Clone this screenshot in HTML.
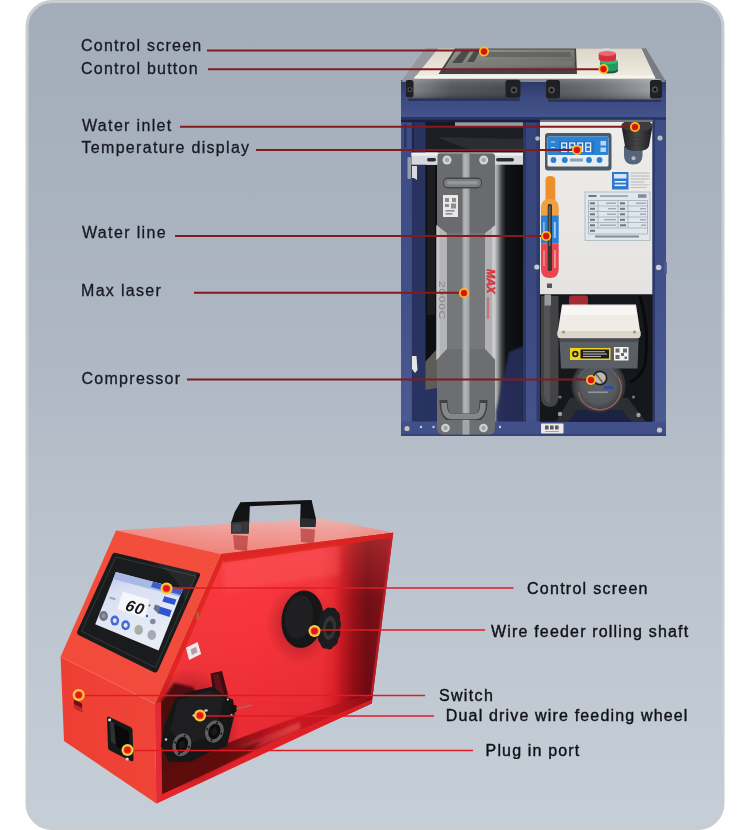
<!DOCTYPE html>
<html>
<head>
<meta charset="utf-8">
<title>Machine structure</title>
<style>
html,body{margin:0;padding:0;background:#fff;}
body{width:750px;height:830px;overflow:hidden;position:relative;font-family:"Liberation Sans",sans-serif;}
svg{position:absolute;left:0;top:0;display:block;will-change:transform;}
text{font-family:"Liberation Sans",sans-serif;font-size:16px;fill:#171923;stroke:#171923;stroke-width:0.3px;}
text.bl{fill:#111218;stroke:#111218;stroke-width:0.4px;}
</style>
</head>
<body>
<svg width="750" height="830" viewBox="0 0 750 830">
<defs>
<linearGradient id="bg" x1="0" y1="0" x2="0" y2="1">
<stop offset="0" stop-color="#a2adb9"/>
<stop offset="0.45" stop-color="#afb8c4"/>
<stop offset="0.64" stop-color="#bac3cd"/>
<stop offset="1" stop-color="#c6ced7"/>
</linearGradient>
<g id="dot"><circle r="5" fill="#f8c818"/><circle r="3.7" fill="#f08a18"/><circle r="3.1" fill="#dc101c"/></g><g id="dot2"><circle r="6" fill="#f6d044"/><circle r="4.3" fill="#f0901c"/><circle r="3.3" fill="#e6141e"/></g>
</defs>
<!-- PANEL -->
<rect x="27" y="1.5" width="696" height="827" rx="25" ry="25" fill="url(#bg)" stroke="#c9ccd0" stroke-width="3"/>
<!-- MACHINE-TOP -->
<g id="chiller">
<defs>
<filter id="b1" x="-10%" y="-10%" width="120%" height="120%"><feGaussianBlur stdDeviation="0.6"/></filter>
<filter id="b2" x="-20%" y="-20%" width="140%" height="140%"><feGaussianBlur stdDeviation="1.2"/></filter>
<filter id="b3" x="-30%" y="-30%" width="160%" height="160%"><feGaussianBlur stdDeviation="2.5"/></filter>
<linearGradient id="cream" x1="0" y1="0" x2="0" y2="1"><stop offset="0" stop-color="#dcd6c8"/><stop offset="1" stop-color="#f1ede2"/></linearGradient>
<linearGradient id="blueTop" x1="0" y1="0" x2="0" y2="1"><stop offset="0" stop-color="#2c3763"/><stop offset="0.45" stop-color="#3b4a80"/><stop offset="1" stop-color="#44558d"/></linearGradient>
<linearGradient id="bumpL" x1="0" y1="0" x2="1" y2="0"><stop offset="0" stop-color="#85888c"/><stop offset="0.12" stop-color="#7b7e82"/><stop offset="0.4" stop-color="#54575c"/><stop offset="1" stop-color="#46494e"/></linearGradient><linearGradient id="bumpR" x1="0" y1="0" x2="1" y2="0"><stop offset="0" stop-color="#54575c"/><stop offset="0.45" stop-color="#6c6f74"/><stop offset="0.9" stop-color="#9b9ea2"/><stop offset="1" stop-color="#9b9ea2"/></linearGradient><linearGradient id="bumpV" x1="0" y1="0" x2="0" y2="1"><stop offset="0" stop-color="#ffffff" stop-opacity="0.180"/><stop offset="0.5" stop-color="#808080" stop-opacity="0"/><stop offset="1" stop-color="#000000" stop-opacity="0.300"/></linearGradient><linearGradient id="bump" x1="0" y1="0" x2="0" y2="1"><stop offset="0" stop-color="#5a5d62"/><stop offset="0.35" stop-color="#45484d"/><stop offset="1" stop-color="#2b2d31"/></linearGradient>
<linearGradient id="laserSide" x1="0" y1="0" x2="1" y2="0"><stop offset="0" stop-color="#c9c9ca"/><stop offset="0.1" stop-color="#a4a5a6"/><stop offset="0.26" stop-color="#3f4043"/><stop offset="0.4" stop-color="#111215"/><stop offset="1" stop-color="#0b0c0f"/></linearGradient>
<linearGradient id="scr" x1="0" y1="0" x2="1" y2="1"><stop offset="0" stop-color="#95968e"/><stop offset="0.5" stop-color="#7c7d77"/><stop offset="1" stop-color="#626462"/></linearGradient>
<linearGradient id="postL" x1="0" y1="0" x2="1" y2="0"><stop offset="0" stop-color="#40508a"/><stop offset="0.42" stop-color="#3a497f"/><stop offset="0.45" stop-color="#293462"/><stop offset="1" stop-color="#27325e"/></linearGradient>
<linearGradient id="postV" gradientUnits="userSpaceOnUse" x1="0" y1="118" x2="0" y2="436"><stop offset="0" stop-color="#3d4c85"/><stop offset="0.5" stop-color="#414f88"/><stop offset="1" stop-color="#4d5b93"/></linearGradient><linearGradient id="postV2" gradientUnits="userSpaceOnUse" x1="0" y1="118" x2="0" y2="436"><stop offset="0" stop-color="#36457a"/><stop offset="0.6" stop-color="#3a497f"/><stop offset="1" stop-color="#46548c"/></linearGradient><linearGradient id="whitep" x1="0" y1="0" x2="0" y2="1"><stop offset="0" stop-color="#eeedea"/><stop offset="1" stop-color="#e4e3e1"/></linearGradient>
<linearGradient id="capg" x1="0" y1="0" x2="1" y2="0"><stop offset="0" stop-color="#1d1d1f"/><stop offset="0.5" stop-color="#48484a"/><stop offset="1" stop-color="#1a1a1c"/></linearGradient>
<radialGradient id="pump" cx="0.5" cy="0.5" r="0.5"><stop offset="0" stop-color="#5f6266"/><stop offset="0.7" stop-color="#55585c"/><stop offset="1" stop-color="#3b3d41"/></radialGradient>
</defs>
<!-- interior dark -->
<rect x="402" y="118" width="263" height="316" fill="#16181e"/>
<!-- interior floor left -->
<path d="M425 388 L523 388 L523 423 L412 423Z" fill="#2b3665"/>
<rect x="425" y="125" width="98" height="28" fill="#1c1e24"/>
<path d="M437 137 L523 139 L523 150 L470 150Z" fill="#2c2e33" filter="url(#b1)"/>
<rect x="455" y="122" width="68" height="4" fill="#9a9da0" filter="url(#b1)"/>
<!-- back interior of left bay -->
<rect x="425" y="165" width="12" height="240" fill="#0e0f13"/>
<path d="M427 165 h8 v150 h-8z" fill="#1d1d20"/>
<!-- left bay gray panel behind bottom -->
<path d="M425 362 L437 349 L437 392 L425 397Z" fill="#5c5c58" filter="url(#b1)"/><path d="M412 392 L437 388 L437 423 L412 423Z" fill="#28325f"/>
<!-- laser side (gradient to dark) -->
<rect x="494" y="158" width="30" height="264" fill="url(#laserSide)"/>
<path d="M509 352 L524 346 L524 423 L496 423 L496 412Z" fill="#252f5a" opacity="0.950" filter="url(#b2)"/>
<!-- silver bracket -->
<rect x="411" y="152.7" width="112" height="12" fill="#d6d9dc"/>
<rect x="411" y="152.7" width="112" height="3" fill="#eceeef"/>
<rect x="427" y="158" width="9" height="3.4" rx="1.7" fill="#2b2d30"/>
<rect x="496" y="158" width="18" height="3.4" rx="1.7" fill="#2b2d30"/>
<!-- laser unit front -->
<path d="M440 153.5 H492 Q495 153.5 495 157 V428 Q495 434 489 434 H443 Q437 434 437 428 V157 Q437 153.5 440 153.5Z" fill="#75777a"/>
<!-- light side stripes -->
<path d="M436.500 225 L447 233 L447 349 L436.500 360Z" fill="#b4b5b6"/>
<path d="M436.500 225 L439.500 227.500 L439.500 357 L436.500 360Z" fill="#c6c7c8"/>
<path d="M495.500 225 L485 233 L485 349 L495.500 360Z" fill="#b0b1b2"/>
<path d="M495.500 225 L492 227.500 L492 356 L495.500 360Z" fill="#c9c9ca"/>
<!-- darker top/bottom -->
<path d="M437 157 Q437 153.5 440 153.5 H492 Q495 153.5 495 157 V225 L485 233 H447 L437 225Z" fill="#696b6e"/>
<path d="M437 360 L447 349 H485 L495 360 V428 Q495 434 489 434 H443 Q437 434 437 428Z" fill="#6c6e71"/>
<!-- center stripe -->
<rect x="462.5" y="153.5" width="7" height="280.5" fill="#a3a5a7"/>
<rect x="464" y="153.5" width="3" height="280.5" fill="#b1b2b3"/>
<!-- QR sticker -->
<rect x="443" y="195" width="15" height="22" fill="#e9e9e7"/>
<g fill="#8c8c8c"><rect x="445" y="198" width="4" height="4"/><rect x="452" y="198" width="4" height="4"/><rect x="445" y="204" width="4" height="3"/><rect x="451" y="203.5" width="5" height="5"/><rect x="445.500" y="210" width="9" height="1.600"/><rect x="445.500" y="213" width="7" height="1.600"/></g>
<!-- handles -->
<rect x="443" y="177.500" width="39" height="11" rx="5" fill="#44464a"/>
<rect x="444" y="179" width="37" height="8" rx="4" fill="#7b7d81"/>
<rect x="447" y="181" width="31" height="3.500" rx="1.700" fill="#94969a"/>
<path d="M443.500 400 Q443.500 417.500 452 417.500 H475 Q483.500 417.500 483.500 400" fill="none" stroke="#3f4144" stroke-width="8" filter="url(#b1)"/>
<path d="M444 403 Q444 416.500 452 416.500 H475 Q483 416.500 483 403" fill="none" stroke="#85878a" stroke-width="5.500"/>
<!-- screws on laser -->
<g><circle cx="447" cy="160" r="4.500" fill="#d4d5d6"/><circle cx="447" cy="160" r="2.300" fill="#a5a7a9"/><circle cx="483.700" cy="160" r="4.500" fill="#d4d5d6"/><circle cx="483.700" cy="160" r="2.300" fill="#a5a7a9"/>
<circle cx="445.500" cy="428" r="4.300" fill="#d0d1d2"/><circle cx="445.500" cy="428" r="2.200" fill="#a0a2a4"/><circle cx="483.500" cy="428" r="4.300" fill="#d0d1d2"/><circle cx="483.500" cy="428" r="2.200" fill="#a0a2a4"/></g>
<!-- MAX text & 2000C text -->
<text transform="translate(486.500,269) rotate(90)" style="stroke:#d8343c;stroke-width:0.500px;font-size:11px;font-weight:bold;font-style:italic;fill:#d8343c;letter-spacing:0">MAX</text>
<rect x="486.800" y="297" width="2.400" height="22" fill="#c9646a" opacity="0.800"/>
<text transform="translate(438.500,281) rotate(90)" style="stroke:none;font-size:9px;fill:#858688;letter-spacing:0.500px" textLength="39" lengthAdjust="spacingAndGlyphs">2000C</text>
<!-- left post -->
<rect x="401" y="118" width="24.500" height="318" fill="#28335f"/><rect x="401" y="118" width="10.800" height="318" fill="url(#postV)"/>
<rect x="412" y="124" width="2" height="30" fill="#1c2448"/>
<rect x="404" y="124" width="2.500" height="24" rx="1" fill="#2a3563"/>
<rect x="411.500" y="152.700" width="26" height="12" fill="#d6d9dc"/><rect x="411.500" y="152.700" width="26" height="3" fill="#eceeef"/><rect x="427" y="158" width="9" height="3.400" rx="1.700" fill="#2b2d30"/>
<!-- left silver hinge bits -->
<rect x="407.500" y="157" width="3.500" height="22" rx="1.500" fill="#9a9ea6"/>
<path d="M412 166 h5 v14 l-3 -2 h-2z" fill="#d9dbdd"/>
<path d="M412 356 h4.500 l1 14 l-2.500 3 l-3 -4z" fill="#e6e6e4"/>
<!-- center post -->
<rect x="523" y="118" width="17" height="318" fill="url(#postV2)"/>
<rect x="523" y="118" width="3" height="318" fill="#2b3766"/>
<rect x="536.500" y="118" width="3.500" height="318" fill="#2e3a6a"/>
<circle cx="536.800" cy="267" r="2.600" fill="#c9cbcf"/>
<circle cx="537.500" cy="138.500" r="2.300" fill="#aeb2bb"/>
<!-- right bay -->
<!-- white panel -->
<rect x="540" y="121" width="113" height="173.500" fill="url(#whitep)"/>
<!-- right post -->
<rect x="652.500" y="118" width="13.500" height="318" fill="url(#postV)"/>
<rect x="652.500" y="118" width="2.500" height="318" fill="#2d3968"/>
<rect x="664" y="262" width="2.800" height="12" fill="#4a5a90"/>
<circle cx="660" cy="138" r="2.600" fill="#b9bcc4"/>
<circle cx="658.600" cy="267.500" r="2.800" fill="#c9cbcf"/>
<!-- bottom frame -->
<rect x="401" y="421.500" width="265" height="14.500" fill="#42508a"/>
<rect x="401" y="434" width="265" height="2" fill="#36437a"/>
<!-- redraw laser bottom over frame -->
<path d="M437 421 V428 Q437 434.500 443 434.500 H489 Q495 434.500 495 428 V421Z" fill="#6c6e71"/>
<rect x="462.500" y="421" width="7" height="13.500" fill="#a3a5a7"/>
<circle cx="445.500" cy="428" r="4.300" fill="#d0d1d2"/><circle cx="445.500" cy="428" r="2.200" fill="#a0a2a4"/><circle cx="483.500" cy="428" r="4.300" fill="#d0d1d2"/><circle cx="483.500" cy="428" r="2.200" fill="#a0a2a4"/>
<circle cx="407" cy="428.500" r="2.600" fill="#c7c4b8"/><circle cx="659.500" cy="430" r="2.600" fill="#c4c6c8"/>
<g fill="#c8ccd8"><circle cx="421" cy="427" r="1.200"/><circle cx="433.500" cy="427" r="1.200"/><circle cx="500" cy="427" r="1.200"/></g>
<rect x="541" y="423.500" width="22.500" height="10" rx="1" fill="#eceae6"/>
<g fill="#5a5c62"><rect x="545" y="425.500" width="3.600" height="4"/><rect x="550" y="425.500" width="3.600" height="4"/><rect x="555" y="425.500" width="3.600" height="4"/><rect x="545" y="431" width="14" height="0.800" opacity="0.600"/></g>
<!-- ===== right bay contents ===== -->
<!-- temperature display -->
<rect x="545" y="133" width="66.500" height="37.500" rx="3" fill="#4d5a66"/>
<rect x="547.500" y="136.500" width="61" height="30" rx="1.500" fill="#e8edf2"/>
<rect x="547.500" y="136.500" width="61" height="18.500" rx="1.500" fill="#2c83d6"/>
<rect x="559" y="141" width="35" height="12" fill="#2a6fc0"/>
<g fill="none" stroke="#e6eef8" stroke-width="1.300"><rect x="561.800" y="143" width="4.800" height="8.500"/><rect x="569.800" y="143" width="4.800" height="8.500"/><rect x="577.800" y="143" width="4.800" height="8.500"/><rect x="585.800" y="143" width="4.800" height="8.500"/><path d="M561.800 147.200h4.800M569.800 147.200h4.800M577.800 147.200h4.800M585.800 147.200h4.800"/></g>
<g fill="#bcd6f2"><rect x="551" y="141.500" width="4" height="1"/><rect x="551" y="147" width="4" height="1"/><rect x="600.500" y="141" width="5.500" height="4.500"/><rect x="600.500" y="147.500" width="5.500" height="4.500"/></g>
<g fill="#2d7fd2"><circle cx="553.500" cy="160" r="2.900"/><circle cx="564.800" cy="160" r="2.900"/><circle cx="589" cy="160" r="2.900"/><circle cx="599.500" cy="160" r="2.900"/></g>
<rect x="570" y="158.500" width="13" height="3" fill="#6a7f99" opacity="0.700"/>
<!-- water inlet cap -->
<path d="M624 146 V155.500 Q624 164.500 633.200 164.500 Q642.500 164.500 642.500 155.500 V146Z" fill="#55657c"/>
<circle cx="633.500" cy="158.300" r="2" fill="#b4bcc8"/>
<path d="M621.500 126 Q621.500 120.300 637 120.300 Q652.500 120.300 652.500 126 L649 146 Q648 151 636.500 151 Q625.500 151 625 146Z" fill="url(#capg)"/>
<ellipse cx="637" cy="126" rx="15.300" ry="5.600" fill="#3d3d3f"/>
<g stroke="#3a3633" stroke-width="0.700" fill="none" opacity="0.800"><path d="M623.500 135 Q637 140 650.800 135"/><path d="M624 139 Q637 144 650.200 139"/><path d="M624.600 143 Q637 148 649.600 143"/></g>
<!-- blue label -->
<rect x="612" y="172" width="16.500" height="17.500" fill="#2d79cf"/>
<g fill="#e8f1fb"><rect x="614" y="174" width="12.500" height="4.500" opacity="0.900"/><rect x="614.500" y="181" width="11.500" height="1.600"/><rect x="614.500" y="184.500" width="11.500" height="1.600"/></g>
<g fill="#9aa0a8" opacity="0.700"><rect x="630.500" y="172.500" width="19" height="1"/><rect x="630.500" y="175.500" width="19" height="1"/><rect x="630.500" y="178.500" width="19" height="1"/><rect x="630.500" y="181.500" width="14" height="1"/><rect x="630.500" y="184.500" width="19" height="0.800"/><rect x="630.500" y="187" width="16" height="0.800"/></g>
<!-- spec label -->
<rect x="585" y="192" width="65" height="48.500" fill="#dfe7ec" stroke="#a9b4bd" stroke-width="0.800"/>
<g stroke="#8f9aa5" stroke-width="0.600" fill="none"><path d="M588.500 200.500 H647.500 V234 H588.500Z"/><path d="M588.500 206H647.500M588.500 211.500H647.500M588.500 217H647.500M588.500 222.500H647.500M588.500 228H647.500M618 200.500V228M598 200.500V228M628 200.500V228"/></g>
<g fill="#6c7680"><rect x="588.500" y="195" width="8" height="2"/><rect x="600" y="195.300" width="28" height="1.500" opacity="0.700"/><rect x="638" y="194.300" width="8.500" height="3.500" opacity="0.800"/><rect x="595" y="235.500" width="44" height="2" opacity="0.800"/>
<rect x="590" y="202.300" width="5" height="2"/><rect x="590" y="207.800" width="5" height="2"/><rect x="590" y="213.300" width="5" height="2"/><rect x="590" y="218.800" width="5" height="2"/><rect x="590" y="224.300" width="5" height="2"/><rect x="590" y="229.800" width="5" height="2"/>
<rect x="620" y="202.300" width="5" height="2"/><rect x="620" y="207.800" width="5" height="2"/><rect x="620" y="213.300" width="5" height="2"/><rect x="620" y="218.800" width="5" height="2"/><rect x="620" y="224.300" width="6" height="2"/>
<g opacity="0.550"><rect x="606" y="202.500" width="10" height="1.400"/><rect x="608" y="208" width="8" height="1.400"/><rect x="607" y="213.500" width="9" height="1.400"/><rect x="604" y="219" width="12" height="1.400"/><rect x="600" y="224.500" width="16" height="1.400"/><rect x="636" y="202.500" width="10" height="1.400"/><rect x="640" y="208" width="6" height="1.400"/><rect x="640" y="213.500" width="6" height="1.400"/><rect x="640" y="219" width="6" height="1.400"/><rect x="641" y="224.500" width="5" height="1.400"/></g></g>
<!-- level gauge -->
<path d="M545.500 200 V180 Q545.500 176 550.400 176 Q555.300 176 555.300 180 V200Z" fill="#ef8f2c"/>
<path d="M541 216 V208 Q541 198.700 549.800 198.700 Q558.700 198.700 558.700 208 V216Z" fill="#f0a040"/>
<rect x="541" y="215.600" width="17.700" height="28" fill="#2a7fd6"/>
<path d="M541 243.400 H558.700 V269 Q558.700 278 549.800 278 Q541 278 541 269Z" fill="#e8454f"/>
<rect x="547.700" y="204" width="4.300" height="67" rx="1.500" fill="#3b3432"/>
<rect x="548.800" y="206" width="1.600" height="40" fill="#8a8686" opacity="0.600"/>
<rect x="553.800" y="222" width="2" height="16" fill="#d9e7f7" opacity="0.700"/>
<rect x="543" y="222" width="1.800" height="14" fill="#d9e7f7" opacity="0.500"/>
<rect x="554" y="250" width="1.800" height="18" fill="#f6c9c9" opacity="0.600"/>
<rect x="543.200" y="250" width="1.600" height="16" fill="#f6c9c9" opacity="0.500"/>
<rect x="547" y="283.500" width="5" height="4.500" fill="#55575a"/>
<!-- area below white panel -->
<rect x="540" y="294.500" width="112.500" height="127" fill="#15171c"/>
<rect x="569" y="295.500" width="19" height="10" rx="3" fill="#a42a33"/>

<!-- black hose -->
<path d="M541 296 H558.500 V396 Q558.500 407 550 407 Q541 407 541 396Z" fill="#434446"/>
<path d="M544 298 H550 V403 Q544 402 544 394Z" fill="#525355" filter="url(#b1)"/>
<rect x="544.500" y="294.500" width="6.500" height="11" fill="#97999b"/>
<!-- wires right -->
<path d="M640 296 Q650 330 645 365 Q640 378 630 382" fill="none" stroke="#0a0a0c" stroke-width="3"/>
<!-- pump base -->
<path d="M570 398 H628 L646 422 H556Z" fill="#2c2e31"/>
<path d="M577 410 H622 L632 422 H568Z" fill="#1b2244"/>
<circle cx="560" cy="414" r="2.200" fill="#9b9d9f"/><circle cx="638.500" cy="415" r="2.200" fill="#9b9d9f"/><circle cx="560" cy="397" r="1.600" fill="#77797b"/><circle cx="633.500" cy="397" r="1.600" fill="#77797b"/>
<!-- pump body -->
<circle cx="598.500" cy="385.500" r="27" fill="#303236"/>
<circle cx="598.500" cy="385.500" r="25" fill="url(#pump)"/>
<path d="M578.500 392 A21.500 21.500 0 1 0 618 377" fill="none" stroke="#a8665c" stroke-width="1.300" opacity="0.850"/>
<path d="M579 377 A21 21 0 0 1 617 377" fill="none" stroke="#8b8f96" stroke-width="0.800" opacity="0.700"/>
<circle cx="600" cy="378" r="7.500" fill="#1f2023"/>
<circle cx="600" cy="378" r="5.800" fill="#bdb9ae"/>
<path d="M596 374 L603 383" stroke="#6a675f" stroke-width="1.600"/>
<rect x="604" y="386" width="9" height="3" fill="#2b4fa0"/>
<rect x="588" y="391.500" width="20" height="1.400" fill="#a9adb3" opacity="0.800"/>
<!-- compressor white lid -->
<path d="M562 304.500 H636 L640.500 334 Q640.500 338.500 636 338.500 H562 Q557.500 338.500 557.500 334Z" fill="#efece6"/>
<path d="M557.500 331 H640.500 V335 Q640.500 338.500 636 338.500 H562 Q557.500 338.500 557.500 335Z" fill="#dcd6cb"/>
<path d="M563 306 H635 L636.500 315 H561.500Z" fill="#f7f6f3"/>
<circle cx="563.500" cy="332" r="1.500" fill="#9a958a"/><circle cx="634.500" cy="332" r="1.500" fill="#9a958a"/>
<!-- compressor gray box -->
<path d="M559.500 338.500 H638.500 L637.500 368.500 H561Z" fill="#5a5f66"/>
<rect x="559.500" y="338.500" width="79" height="3.500" fill="#494d53"/>
<rect x="570" y="348" width="40.500" height="12" fill="#f0d21c"/>
<rect x="580.500" y="349.500" width="28.500" height="9" fill="#1d1d1f"/>
<circle cx="575.300" cy="354" r="3.200" fill="#1d1d1f"/><circle cx="575.300" cy="354" r="1.500" fill="#f0d21c"/>
<g fill="#d8d8d8"><rect x="583" y="351.300" width="22" height="0.900"/><rect x="583" y="353.600" width="24" height="0.900"/><rect x="583" y="355.900" width="18" height="0.900"/></g>
<rect x="614" y="347" width="14.500" height="13.500" fill="#f2f2f2"/>
<g fill="#6b6b6b"><rect x="615.500" y="348.500" width="4" height="4"/><rect x="623" y="348.500" width="4" height="4"/><rect x="615.500" y="355" width="4" height="4"/><rect x="621" y="353" width="3" height="3"/><rect x="624.500" y="356.500" width="2.500" height="2.500"/></g>
<!-- ===== top section ===== -->
<!-- blue top frame -->
<path d="M401 80 H666 V119.500 H401Z" fill="url(#blueTop)"/>
<rect x="401" y="117" width="265" height="3" fill="#2b3663"/>
<rect x="401" y="119.800" width="139" height="2.500" fill="#1a2040"/><rect x="540" y="119.800" width="113" height="2.200" fill="#6d7382"/>
<!-- gray bevel of top plate -->
<path d="M425.500 48.500 L646 48.500 L666 82 L401 82Z" fill="#868a90"/>
<path d="M425.500 48.500 L438 48.500 L414.500 79 L402 81Z" fill="#969aa0"/>
<path d="M646 48.500 L641 48.500 L655 79 L666 82Z" fill="#797c83"/>
<!-- cream plate -->
<path d="M438 48.500 L641.500 48.500 L655.500 78.500 L414 78.500Z" fill="url(#cream)"/><path d="M416 75.500 L654 75.500 L655.500 78.500 L414 78.500Z" fill="#f6f4ee"/>
<!-- screen -->
<path d="M455 48.500 L576 48.500 L577 74 L438.500 74Z" fill="#404347"/>
<path d="M456.500 49.500 L574.500 49.500 L575 69.500 L443.500 69.500Z" fill="url(#scr)"/>
<path d="M462 51 L470 51 L462 63 L452 63Z M474 51 L480 51 L474 62 L467 62Z" fill="#3c3e3f" opacity="0.800" filter="url(#b1)"/>
<path d="M485 52 L570 52 L571 57 L484 57Z" fill="#5a5c5b" opacity="0.700" filter="url(#b1)"/>
<path d="M480 61 L573 61 L573 66 L478 66Z" fill="#7d7f7a" opacity="0.500" filter="url(#b1)"/>
<!-- buttons -->
<ellipse cx="606.500" cy="50" rx="6.500" ry="1.800" fill="#d4d4d2"/>
<path d="M600 62 H618 V70.500 Q618 73.500 609 73.500 Q600 73.500 600 70.500Z" fill="#2b4a3c"/>
<path d="M600 61 H618 V68.500 Q618 71.500 609 71.500 Q600 71.500 600 68.500Z" fill="#1f9a60"/>
<ellipse cx="609" cy="61.500" rx="9" ry="2.800" fill="#35b877"/>
<path d="M598.700 53.500 H616 V59 Q616 61.500 607.300 61.500 Q598.700 61.500 598.700 59Z" fill="#d62f3e"/>
<ellipse cx="607.300" cy="53.500" rx="8.650" ry="2.600" fill="#ea6673"/>
<!-- bumpers -->
<rect x="405.500" y="79" width="115" height="19.500" rx="3.500" fill="url(#bumpL)"/>
<rect x="405.500" y="79" width="115" height="19.500" rx="3.500" fill="url(#bumpV)"/>
<rect x="405.500" y="80" width="8" height="17.500" rx="2.500" fill="#1f2023"/>
<rect x="505.500" y="80" width="15" height="17.500" rx="2.500" fill="#1f2023"/>
<circle cx="410" cy="89.500" r="2.600" fill="#4a4c50"/><circle cx="410" cy="89.500" r="1.200" fill="#0c0c0d"/>
<circle cx="514" cy="90" r="3.400" fill="#4a4c50"/><circle cx="514" cy="90" r="1.600" fill="#0c0c0d"/>
<rect x="546" y="79" width="116" height="20.500" rx="3.500" fill="url(#bumpR)"/>
<rect x="546" y="79" width="116" height="20.500" rx="3.500" fill="url(#bumpV)"/>
<rect x="546" y="80" width="14" height="18.500" rx="2.500" fill="#1f2023"/>
<rect x="650" y="80" width="12" height="18.500" rx="2.500" fill="#1f2023"/>
<circle cx="551.500" cy="90" r="3.400" fill="#4a4c50"/><circle cx="551.500" cy="90" r="1.600" fill="#0c0c0d"/>
<circle cx="655" cy="89.500" r="3.200" fill="#4a4c50"/><circle cx="655" cy="89.500" r="1.500" fill="#0c0c0d"/>
<rect x="408" y="98.500" width="112" height="2.500" fill="#252d52" opacity="0.800" filter="url(#b1)"/>
<rect x="548" y="99.500" width="113" height="2.500" fill="#252d52" opacity="0.800" filter="url(#b1)"/>
</g>
<!-- MACHINE-BOTTOM -->
<g id="feeder">
<defs>
<linearGradient id="fTop" x1="0" y1="0" x2="1" y2="0"><stop offset="0" stop-color="#f07a6e"/><stop offset="0.35" stop-color="#f09088"/><stop offset="0.8" stop-color="#f09890"/><stop offset="1" stop-color="#ec7a74"/></linearGradient><linearGradient id="fTopV" gradientUnits="userSpaceOnUse" x1="0" y1="518" x2="0" y2="554"><stop offset="0" stop-color="#e4c0be" stop-opacity="0.800"/><stop offset="0.45" stop-color="#f0a8a2" stop-opacity="0.350"/><stop offset="1" stop-color="#ee6a62" stop-opacity="0.350"/></linearGradient><linearGradient id="fDark" gradientUnits="userSpaceOnUse" x1="160" y1="0" x2="290" y2="0"><stop offset="0" stop-color="#560a0f"/><stop offset="0.45" stop-color="#600b11"/><stop offset="1" stop-color="#a01018" stop-opacity="0"/></linearGradient><linearGradient id="fFloor" gradientUnits="userSpaceOnUse" x1="160" y1="0" x2="372" y2="0"><stop offset="0" stop-color="#6a0a12"/><stop offset="0.3" stop-color="#9a0f18"/><stop offset="0.5" stop-color="#cc1a24"/><stop offset="0.8" stop-color="#c2161f"/><stop offset="1" stop-color="#8a0c14"/></linearGradient>
<linearGradient id="fSlope" x1="0" y1="0" x2="0" y2="1"><stop offset="0" stop-color="#f34e3c"/><stop offset="1" stop-color="#f24a3c"/></linearGradient>
<linearGradient id="fFront" x1="0" y1="0" x2="1" y2="0"><stop offset="0" stop-color="#ee3e34"/><stop offset="1" stop-color="#f04438"/></linearGradient>
<linearGradient id="fWall" gradientUnits="userSpaceOnUse" x1="190" y1="0" x2="395" y2="0"><stop offset="0" stop-color="#f4363c"/><stop offset="0.3" stop-color="#f7333b"/><stop offset="0.64" stop-color="#f03038"/><stop offset="0.70" stop-color="#e0242c"/><stop offset="0.74" stop-color="#c0161e"/><stop offset="0.80" stop-color="#880c12"/><stop offset="0.865" stop-color="#600810"/><stop offset="0.96" stop-color="#760b13"/><stop offset="1" stop-color="#7a0c14"/></linearGradient>
<linearGradient id="fWallV" gradientUnits="userSpaceOnUse" x1="0" y1="540" x2="0" y2="720"><stop offset="0" stop-color="#ff5a5a" stop-opacity="0.35"/><stop offset="0.35" stop-color="#ff4a4a" stop-opacity="0.1"/><stop offset="1" stop-color="#a00010" stop-opacity="0.15"/></linearGradient>
<linearGradient id="fLip" x1="0" y1="0" x2="1" y2="0"><stop offset="0" stop-color="#e8262c"/><stop offset="1" stop-color="#d81c24"/></linearGradient>
<linearGradient id="fDisp" x1="0" y1="0" x2="0.3" y2="1"><stop offset="0" stop-color="#b9c5ea"/><stop offset="0.3" stop-color="#d9e0f3"/><stop offset="1" stop-color="#e9edf6"/></linearGradient>
<clipPath id="fSideClip"><path d="M221 554 L393.200 532.800 L372.300 699 L372 703.300 L156.400 803.500 L155 704Z"/></clipPath><radialGradient id="fShade" cx="0.5" cy="0.5" r="0.5"><stop offset="0" stop-color="#5a060c" stop-opacity="0.9"/><stop offset="1" stop-color="#5a060c" stop-opacity="0"/></radialGradient>
</defs>
<!-- top face -->
<path d="M116 530.4 L322 518.5 L393.2 532.8 L221 554Z" fill="url(#fTop)"/><path d="M116 530.4 L322 518.5 L393.2 532.8 L221 554Z" fill="url(#fTopV)"/>
<!-- side: inner wall -->
<path d="M221 554 L393.200 532.800 L372.300 699 L372 703.300 L156.400 803.500 L155 704Z" fill="url(#fWall)"/>
<path d="M221 554 L393.200 532.800 L372.300 699 L372 703.300 L156.400 803.500 L155 704Z" fill="url(#fWallV)"/>
<!-- highlight under top edge -->
<path d="M221 554 L393.200 532.800 L392.600 537.500 L260 557.500 L224 562.500Z" fill="#da221e" opacity="0.900"/><path d="M224 562.500 L260 557.500 L340 545.500 L340 575 L224 592Z" fill="#ff7a7c" opacity="0.220" filter="url(#b3)"/>
<path d="M221 554 L225.500 555.500 L161 703 L155 704Z" fill="#e02622"/>
<path d="M393.200 532.800 L390.800 533.100 L370.200 698 L372.300 699Z" fill="#c4222a" opacity="0.800"/>
<!-- floor (dark) -->
<path d="M372 693.500 L300 716 L236 740 L162 775 L162 794 L200 776.300 L280 738.700 L372 699.500Z" fill="url(#fFloor)"/>
<path d="M300 722 L240 746 L240 755 L300 729Z" fill="#f06a64" opacity="0.450" filter="url(#b2)"/>
<!-- lip -->
<path d="M372 699.500 L280 738.700 L200 776.300 L162 794 L156.400 803.500 L200 782.900 L280 745.300 L372 703.300Z" fill="url(#fLip)"/>
<!-- shadow near drive -->
<g clip-path="url(#fSideClip)"><ellipse cx="190" cy="730" rx="50" ry="62" fill="url(#fShade)"/><path d="M160 703 L174 683 L193 687 L200 700 L170 726 L164 750 L161 760Z" fill="#4e080d" filter="url(#b2)"/><path d="M161 745 L211 750 L240 738 L290 719 L290 734 L240 757.500 L217 768.300 L190 781 L162 794Z" fill="url(#fDark)" filter="url(#b1)"/><path d="M162 770 L230 752 L260 742 L250 752 L200 776 L162 793Z" fill="#5e0a11" opacity="0.800" filter="url(#b2)"/>
<ellipse cx="300" cy="624" rx="34" ry="40" fill="url(#fShade)" opacity="0.600"/></g>
<!-- front frame strip of side -->
<path d="M155 704 L161 701.500 L162 794 L156.400 803.500Z" fill="#e22c34"/>
<!-- front sloped face -->
<path d="M116 530.400 L221 554 L155 704 L60.600 656.800Z" fill="url(#fSlope)"/>
<!-- front vertical face -->
<path d="M60.600 656.800 L155 704 L156.400 803.500 L64 741Z" fill="url(#fFront)"/>
<path d="M60.600 656.800 L155 704" stroke="#f6685c" stroke-width="1" opacity="0.700"/>
<!-- bezel -->
<path d="M116 553 L197.800 572.400 Q201 573.200 199.800 576 L158 670.500 Q156.700 673.500 153.800 672.200 L79 635.200 Q76.200 633.800 77.400 631 L112.200 554.500 Q113.300 552.300 116 553Z" fill="#1a1b1d"/>
<path d="M115.800 557 L195.800 576.200 L155.500 667.500 L81.500 631.300Z" fill="none" stroke="#3c3d40" stroke-width="0.800"/>
<!-- display -->
<path d="M115.900 572 L182.700 589.500 L158.600 650.500 L95.200 624.300Z" fill="url(#fDisp)"/>
<path d="M115.900 572 L182.700 589.500 L179.800 596.800 L113.200 579Z" fill="#aab8e6"/>
<path d="M153 581.800 L182.700 589.500 L180.600 595 L151 587Z" fill="#3a5fc8"/>
<!-- 60 box -->
<path d="M122.500 591.500 L149.500 599.500 L144.500 618 L117.500 609Z" fill="#f7f7fa"/>
<text transform="translate(123.800,609.800) rotate(16) skewX(-12)" style="stroke:none;font-size:16px;font-weight:bold;fill:#17181c;letter-spacing:0.500px">60</text>
<!-- blue buttons -->
<path d="M164.300 596.300 L176.400 599.600 L174.500 605 L162.400 601.600Z" fill="#2f55d0"/>
<path d="M159.600 606.600 L171.700 610.300 L169.500 617 L157.200 613Z" fill="#2f55d0"/>
<path d="M155 604.500 L160 606 L158.500 614 L153.500 609Z" fill="#6a7690"/>
<circle cx="152.800" cy="621.500" r="2.800" fill="#7f8aa6"/>
<circle cx="147" cy="616" r="1.200" fill="#3a55c0"/><circle cx="149.500" cy="605.500" r="1" fill="#55607a"/>
<rect x="110" y="596.500" width="6" height="2" fill="#9aa3c0" transform="rotate(17 110 596.500)"/>
<!-- round buttons -->
<g><ellipse cx="103.600" cy="616" rx="4.300" ry="5" fill="#6c7484"/><ellipse cx="114.800" cy="620.600" rx="4.300" ry="5" fill="#4468d8"/><ellipse cx="125.600" cy="625.300" rx="4.300" ry="5" fill="#4468d8"/><ellipse cx="138.700" cy="630" rx="4.300" ry="5" fill="#a7b0a6"/><ellipse cx="151.800" cy="635" rx="4.300" ry="5" fill="#a4aab6"/>
<ellipse cx="114.800" cy="620.600" rx="2" ry="2.400" fill="#dfe6fb"/><ellipse cx="125.600" cy="625.300" rx="2" ry="2.400" fill="#dfe6fb"/><ellipse cx="103.600" cy="616" rx="2" ry="2.400" fill="#8d94a4"/></g>
<!-- reflection on bezel -->
<path d="M150 560.500 L197.500 572.400 L185 601 Q180 575 150 560.500Z" fill="#ffffff" opacity="0.060"/>
<!-- sticker -->
<path d="M185.900 647.700 L197.600 642 L201.200 654.100 L189.100 659.900Z" fill="#efe9ea"/>
<path d="M190.500 649.500 L196 646.800 L197.500 652.200 L192 655Z" fill="#b99aa2"/>
<!-- small brass on right of slope -->
<rect x="196.500" y="612" width="2.500" height="8" fill="#b86a2a" opacity="0.800"/>
<!-- switch -->
<path d="M73.800 699.500 L82 703.500 L82.200 712 L74 708Z" fill="#6e1016"/>
<path d="M74 704 L82 708 L82.200 712 L74 708Z" fill="#c02a2a"/>
<!-- socket -->
<path d="M108.500 716.500 L130.500 727 Q132.500 728 132.500 730 L133.500 759 Q133.500 762 131 761 L110 750.500 Q108 749.500 108 747.500 L107 718 Q107 716 108.500 716.500Z" fill="#17181a"/>
<path d="M111.500 722.500 L129 731 L129.500 752 Q120 752 112.500 741Z" fill="#0a0a0b"/>
<path d="M110 721 L114 723 L116 745 L111 742Z" fill="#2e3033"/>
<circle cx="109.600" cy="719.800" r="1.600" fill="#d5d5d5"/><circle cx="127.200" cy="759" r="1.600" fill="#d5d5d5"/>
<!-- handle -->
<path d="M233 535 L248 536 L247 551 L234.500 549.500Z" fill="#b43a3a" opacity="0.700" filter="url(#b1)"/>
<path d="M300.500 528.500 L315 529.500 L314 543.500 L301 542Z" fill="#b43a3a" opacity="0.700" filter="url(#b1)"/>
<path d="M239.800 503.200 L250 503.500 L249.300 519.300 L248.600 533.500 L231 533.500 L231 523 L234.700 512Z" fill="#131415"/>
<path d="M231 522.500 L249.200 521 L248.600 533.500 L231 533.500Z" fill="#353739"/>
<path d="M232.500 524.500 L241 524 L241 532 L232.500 532Z" fill="#4a4c4e" opacity="0.700"/>
<path d="M300.700 501 L311.700 500.600 L316 519.300 L315.300 526.900 L300 526.900Z" fill="#131415"/>
<path d="M300.200 518 L316 519.300 L315.300 526.900 L300 526.900Z" fill="#2c2d2f"/>
<path d="M240 502.300 L311.500 500 L312 503.600 L250 506.200 L240.500 506Z" fill="#101112"/>
<!-- shaft disc + knob -->
<ellipse cx="302.400" cy="619.200" rx="20.800" ry="28.800" transform="rotate(8 302.400 619.200)" fill="#161617"/>
<ellipse cx="299" cy="617" rx="14" ry="22" transform="rotate(8 299 617)" fill="#1f1f21"/>
<path d="M324 610.500 Q327 606.500 331 608 Q335 606.500 337 611 Q341 613 339.800 619 Q342 624 339.800 629 Q341.500 635 338 639.500 Q338 645 333.500 646.500 Q331 651 326.500 648.500 Q322 649.500 320.500 644 Q317 640 318.200 635 Q316.500 629 318.500 624 Q317.500 618 320.500 615 Q321 611 324 610.500Z" fill="#1c1c1e"/>
<ellipse cx="329.500" cy="628" rx="6.500" ry="12" transform="rotate(6 329.500 628)" fill="#333336"/>
<ellipse cx="329.500" cy="628" rx="3.500" ry="7" transform="rotate(6 329.500 628)" fill="#1c1c1e"/>
<!-- drive assembly -->
<path d="M210.500 673.500 L222 671 L228.500 696.500 L214 698Z" fill="#3a0c12"/>
<path d="M213 675 L219 673.800 L224 694 L217 695Z" fill="#5e1219"/>
<path d="M175.500 687 L182 685.500 L183.500 703 L174 707.500Z" fill="#4a0e14"/>
<path d="M164.500 725 L175.500 698 L190 691.500 L212.500 686.800 L225 696.500 L233 699.500 L235 712.500 L227 746 L209 752.500 L190 762 L169 762 L161 746Z" fill="#161617"/>
<path d="M178 700 L211 690 L224 699 L214 735 L185 745 L170 730Z" fill="#1e1e20"/>
<path d="M236 709 L252 705" stroke="#8b7f7c" stroke-width="1.200"/>
<rect x="231" y="705" width="5.500" height="7" rx="1" fill="#101011"/>
<!-- wheels -->
<g transform="rotate(18 181.900 744.800)"><ellipse cx="181.900" cy="744.800" rx="9.600" ry="12" fill="#0c0c0d"/><ellipse cx="181.900" cy="744.800" rx="7.600" ry="10" fill="none" stroke="#5e5e60" stroke-width="3.400"/><path d="M181.900 739.800 L185.400 744.800 L181.900 749.800 L178.400 744.800Z" fill="#1a1a1c"/><g fill="#1a1a1c"><circle cx="181.900" cy="735.300" r="1.100"/><circle cx="181.900" cy="754.300" r="1.100"/><circle cx="174.600" cy="744.800" r="1.100"/><circle cx="189.200" cy="744.800" r="1.100"/></g></g>
<g transform="rotate(18 214.400 731.500)"><ellipse cx="214.400" cy="731.500" rx="9.600" ry="11.700" fill="#0c0c0d"/><ellipse cx="214.400" cy="731.500" rx="7.600" ry="9.700" fill="none" stroke="#5e5e60" stroke-width="3.400"/><path d="M214.400 726.500 L217.900 731.500 L214.400 736.500 L210.900 731.500Z" fill="#1a1a1c"/><g fill="#1a1a1c"><circle cx="214.400" cy="722.300" r="1.100"/><circle cx="214.400" cy="740.700" r="1.100"/><circle cx="207.100" cy="731.500" r="1.100"/><circle cx="221.700" cy="731.500" r="1.100"/></g></g>
<g fill="#cfcfcf"><ellipse cx="206" cy="710.500" rx="1.800" ry="1.300"/><ellipse cx="194" cy="715.500" rx="1.600" ry="1.200"/><circle cx="166" cy="739.500" r="1.200"/><circle cx="231.500" cy="715" r="1.100"/><circle cx="227.800" cy="699.500" r="1"/></g>
</g>
<!-- TOP-LINES -->
<g stroke="#84191e" stroke-width="2" fill="none">
<path d="M207 50.5H483"/>
<path d="M208 69.2H603"/>
<path d="M180 126.8H635"/>
<path d="M256 150H576"/>
<path d="M175 236H545"/>
<path d="M194 292.8H464"/>
<path d="M187 379.5H591"/>
</g>
<use href="#dot" x="484" y="51.5"/>
<use href="#dot" x="603.5" y="69"/>
<use href="#dot" x="635" y="127"/>
<use href="#dot" x="577" y="150"/>
<use href="#dot" x="546.2" y="236"/>
<use href="#dot" x="464" y="293"/>
<use href="#dot" x="591" y="380"/>
<!-- BOTTOM-LINES -->
<g stroke="#de1c24" stroke-width="1.4" fill="none">
<path d="M166 588H513.5"/>
<path d="M314 630H485"/>
<path d="M78 695.5H425"/>
<path d="M199 716H434"/>
<path d="M127 750.5H473"/>
</g>
<use href="#dot2" x="166.5" y="588.5"/>
<use href="#dot2" x="314.5" y="631"/>
<use href="#dot2" x="78.7" y="695"/>
<use href="#dot2" x="200" y="715.5"/>
<use href="#dot2" x="127.5" y="750"/>
<!-- LABELS -->
<text x="81.0" y="50.6" textLength="120.2" lengthAdjust="spacing">Control screen</text>
<text x="81.0" y="73.6" textLength="116.6" lengthAdjust="spacing">Control button</text>
<text x="82.0" y="130.8" textLength="89.3" lengthAdjust="spacing">Water inlet</text>
<text x="81.5" y="152.8" textLength="167.6" lengthAdjust="spacing">Temperature display</text>
<text x="82.0" y="238" textLength="83.6" lengthAdjust="spacing">Water line</text>
<text x="81.0" y="296" textLength="79.9" lengthAdjust="spacing">Max laser</text>
<text x="81.5" y="384" textLength="98.6" lengthAdjust="spacing">Compressor</text>
<text class="bl" x="527.0" y="594.3" textLength="120.5" lengthAdjust="spacing">Control screen</text>
<text class="bl" x="491.0" y="636.5" textLength="197.2" lengthAdjust="spacing">Wire feeder rolling shaft</text>
<text class="bl" x="438.9" y="701.4" textLength="53.9" lengthAdjust="spacing">Switch</text>
<text class="bl" x="445.8" y="721.2" textLength="241.6" lengthAdjust="spacing">Dual drive wire feeding wheel</text>
<text class="bl" x="485.6" y="755.6" textLength="93.6" lengthAdjust="spacing">Plug in port</text>
</svg>
</body>
</html>
